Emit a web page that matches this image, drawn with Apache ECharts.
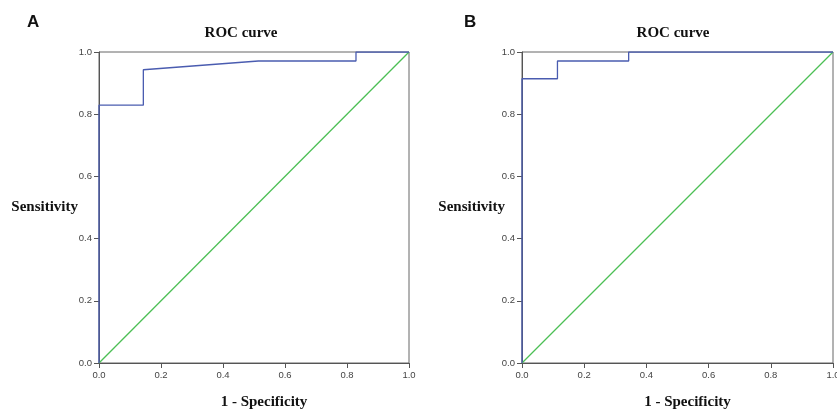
<!DOCTYPE html>
<html>
<head>
<meta charset="utf-8">
<script src="https://cdn.jsdelivr.net/npm/echarts@6/dist/echarts.min.js"></script>
<style>
  html, body { margin: 0; padding: 0; background: #fff; }
  #main { width: 837px; height: 409px; }
</style>
</head>
<body>
<div id="main"></div>
<script>
// ROC 曲线数据 (1 - Specificity, Sensitivity)
var rocAx = [0, 0, 0.143, 0.143, 0.514, 0.829, 0.829, 1];
var rocAy = [0, 0.829, 0.829, 0.943, 0.971, 0.971, 1, 1];
var rocBx = [0, 0, 0.114, 0.114, 0.343, 0.343, 1];
var rocBy = [0, 0.914, 0.914, 0.971, 0.971, 1, 1];
var refX = [0, 1];
var refY = [0, 1];
var panelNames = ['A', 'B'];
var titleText = 'ROC curve';
var xName = '1 - Specificity';
var yName = 'Sensitivity';

function pairs(xs, ys) {
  return xs.map(function (x, i) { return [x, ys[i]]; });
}

var chart = echarts.init(document.getElementById('main'));

var serifBold = { fontFamily: 'Liberation Serif', fontWeight: 'bold', fontSize: 15, color: '#111' };
var tickLabel = { fontFamily: 'Liberation Sans', fontSize: 9.5, color: '#444', margin: 7,
  formatter: function (v) { return v.toFixed(1); } };

function xAxisFor(i) {
  return {
    type: 'value', gridIndex: i, min: 0, max: 1, interval: 0.2,
    name: xName, nameLocation: 'middle', nameGap: 32, nameMoveOverlap: false,
    nameTextStyle: Object.assign({}, serifBold, { padding: [0, 0, 0, 20] }),
    axisLine: { lineStyle: { color: '#555', width: 1 } },
    axisTick: { length: 5, lineStyle: { color: '#555' } },
    axisLabel: tickLabel,
    splitLine: { show: false }
  };
}
function yAxisFor(i, gap) {
  return {
    type: 'value', gridIndex: i, min: 0, max: 1, interval: 0.2,
    name: yName, nameLocation: 'middle', nameRotate: 0, nameGap: gap, nameMoveOverlap: false,
    nameTextStyle: serifBold,
    axisLine: { lineStyle: { color: '#555', width: 1 } },
    axisTick: { length: 5, lineStyle: { color: '#555' } },
    axisLabel: tickLabel,
    splitLine: { show: false }
  };
}

var option = {
  animation: false,
  backgroundColor: '#fff',
  title: [
    { text: panelNames[0], left: 22, top: 9, textStyle: { fontFamily: 'Liberation Sans', fontWeight: 'bold', fontSize: 17, color: '#111' } },
    { text: panelNames[1], left: 459, top: 9, textStyle: { fontFamily: 'Liberation Sans', fontWeight: 'bold', fontSize: 17, color: '#111' } },
    { text: titleText, left: 236, top: 21, textAlign: 'center', textStyle: serifBold },
    { text: titleText, left: 668, top: 21, textAlign: 'center', textStyle: serifBold }
  ],
  grid: [
    { left: 99, right: 428, top: 52, bottom: 46, outerBoundsMode: 'none', containLabel: false,
      show: true, borderColor: '#666', borderWidth: 1 },
    { left: 522, right: 4, top: 52, bottom: 46, outerBoundsMode: 'none', containLabel: false,
      show: true, borderColor: '#666', borderWidth: 1 }
  ],
  xAxis: [xAxisFor(0), xAxisFor(1)],
  yAxis: [yAxisFor(0, 21), yAxisFor(1, 17)],
  series: [
    { type: 'line', xAxisIndex: 0, yAxisIndex: 0, data: pairs(refX, refY), symbol: 'none',
      lineStyle: { color: '#4cbf55', width: 1.3 } },
    { type: 'line', xAxisIndex: 0, yAxisIndex: 0, data: pairs(rocAx, rocAy), symbol: 'none',
      lineStyle: { color: '#4a5cb0', width: 1.3 } },
    { type: 'line', xAxisIndex: 1, yAxisIndex: 1, data: pairs(refX, refY), symbol: 'none',
      lineStyle: { color: '#4cbf55', width: 1.3 } },
    { type: 'line', xAxisIndex: 1, yAxisIndex: 1, data: pairs(rocBx, rocBy), symbol: 'none',
      lineStyle: { color: '#4a5cb0', width: 1.3 } }
  ]
};

chart.setOption(option);
</script>
</body>
</html>
